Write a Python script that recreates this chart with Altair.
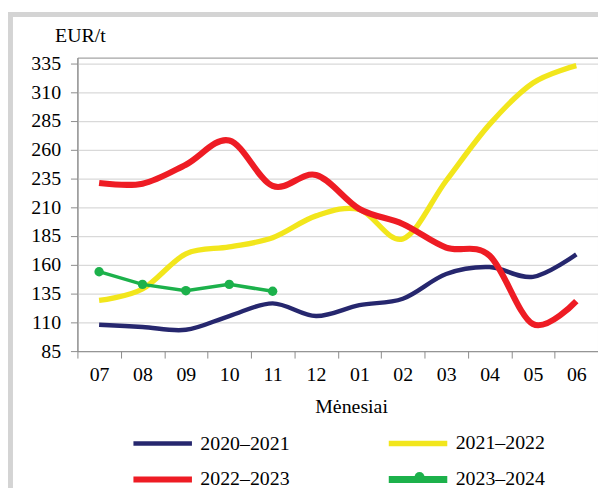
import altair as alt
import pandas as pd

months = ["07", "08", "09", "10", "11", "12", "01", "02", "03", "04", "05", "06"]
series = ["2020–2021", "2021–2022", "2022–2023", "2023–2024"]
v2020 = [108, 106, 103.5, 115.5, 126.5, 115.5, 125, 130.5, 152, 158, 149.5, 169]
v2021 = [129, 139, 169.5, 175.5, 183.5, 202.5, 208, 182.5, 233, 282, 318, 333]
v2022 = [231, 230.5, 247, 268, 228.5, 238, 208.5, 195.5, 175, 168, 108.5, 128.5]
v2023 = [154, 143, 137.5, 143, 137]
colors = ["#26276e", "#f2e61c", "#ee1c24", "#1cb14b"]
widths = [4.5, 7, 4.5, 3.5]
y_ticks = [85, 110, 135, 160, 185, 210, 235, 260, 285, 310, 335]

rows = []
for name, vals in zip(series, [v2020, v2021, v2022, v2023]):
    for m, v in zip(months, vals):
        rows.append({"month": m, "series": name, "value": v})
df = pd.DataFrame(rows)
smooth_df = df[df["series"] != series[3]]
green_df = df[df["series"] == series[3]]

FONT = "Liberation Serif"
FS = 20

x_enc = alt.X("month:O", sort=months,
              scale=alt.Scale(type="band", paddingInner=0, paddingOuter=0),
              axis=alt.Axis(title="Mėnesiai", labelAngle=0, tickBand="extent",
                            tickSize=7, labelPadding=7, titlePadding=12,
                            titleX=276, grid=False))
y_enc = alt.Y("value:Q",
              scale=alt.Scale(domain=[85, 340], nice=False, zero=False),
              axis=alt.Axis(values=y_ticks, title="EUR/t", titleAngle=0,
                            titleAlign="left", titleBaseline="alphabetic",
                            titleX=-23, titleY=-16, tickSize=7,
                            labelPadding=10, grid=True))

color_scale = alt.Scale(domain=series, range=colors)
# wide line symbol drawn beyond its nominal 20px box so rows can sit close
legend = alt.Legend(
    title=None, orient="none", direction="horizontal", legendX=72.5, legendY=376,
    columns=2, columnPadding=85.5, rowPadding=11,
    symbolType="M-2.95,0L2.95,0", symbolSize=400, symbolStrokeWidth=5,
    labelFont=FONT, labelFontSize=FS, labelOffset=24.5, labelColor="black",
)
color_enc = alt.Color("series:N", scale=color_scale, legend=legend)

smooth = alt.Chart(smooth_df).mark_line(interpolate="cardinal").encode(
    x=x_enc, y=y_enc, color=color_enc,
    strokeWidth=alt.StrokeWidth("series:N",
                                scale=alt.Scale(domain=series, range=widths),
                                legend=None),
)
green_line = alt.Chart(green_df).mark_line(strokeWidth=3.5).encode(
    x=x_enc, y=y_enc, color=color_enc)

dot_legend = alt.Legend(
    title=None, orient="none", legendX=340, legendY=418, symbolSize=100,
    symbolFillColor=colors[3], symbolStrokeColor=colors[3], symbolStrokeWidth=0,
    symbolType="circle", labelOpacity=0, labelFontSize=1, labelOffset=0,
)
green_pts = alt.Chart(green_df).mark_point(filled=True, size=90, opacity=1).encode(
    x=x_enc, y=y_enc, color=alt.value(colors[3]),
    shape=alt.Shape("series:N",
                    scale=alt.Scale(domain=[series[3]], range=["circle"]),
                    legend=dot_legend),
)

frame = alt.Chart(alt.Data(values=[{"a": 1}])).mark_rect(
    fillOpacity=0, stroke="#d4d4d4", strokeWidth=5).encode(
    x=alt.value(-67.5), y=alt.value(-43.5), x2=alt.value(800), y2=alt.value(800))

chart = alt.layer(frame, smooth, green_line, green_pts).properties(
    width=525, height=296,
    autosize=alt.AutoSizeParams(type="none"),
    padding={"left": 70, "top": 48, "right": 0, "bottom": 136},
).configure_view(stroke="#8c8c8c", strokeWidth=1).configure_axis(
    labelFont=FONT, labelFontSize=FS, labelColor="black",
    titleFont=FONT, titleFontSize=FS, titleFontWeight="normal", titleColor="black",
    gridColor="#d9d9d9", gridWidth=1.2, domainColor="#8c8c8c", tickColor="#8c8c8c",
)

chart.save("out.html", embed_options={"renderer": "svg", "actions": False})
